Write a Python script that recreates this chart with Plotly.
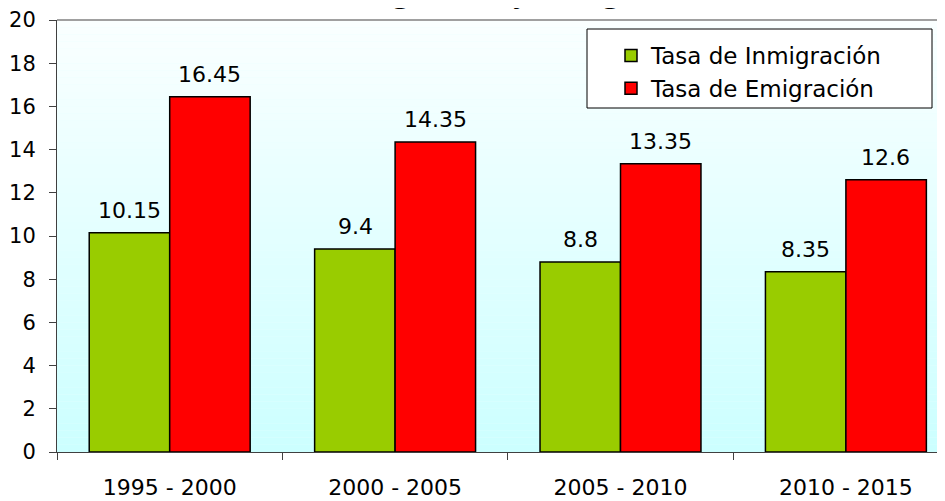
import plotly.graph_objects as go

categories = ["1995 - 2000", "2000 - 2005", "2005 - 2010", "2010 - 2015"]
inmigracion = [10.15, 9.4, 8.8, 8.35]
emigracion = [16.45, 14.35, 13.35, 12.6]
inm_labels = ["10.15", "9.4", "8.8", "8.35"]
emi_labels = ["16.45", "14.35", "13.35", "12.6"]
series_names = ["Tasa de Inmigración", "Tasa de Emigración"]
title_text = "Tasas de Inmigración y Emigración, 1995-2015"

FONT = "DejaVu Sans"
W, H = 945, 501
OFF = 8  # page offset of the figure (body margin)
ML, MR, MT, MB = 57 - OFF, 0, 20 - OFF, H - (452 - OFF)

fig = go.Figure()
fig.add_trace(go.Bar(x=categories, y=inmigracion, name=series_names[0],
                     marker=dict(color="#99CC00", line=dict(color="black", width=1.5))))
fig.add_trace(go.Bar(x=categories, y=emigracion, name=series_names[1],
                     marker=dict(color="#FF0000", line=dict(color="black", width=1.5))))

pw = W - ML - MR
ph = H - MT - MB
def px(x): return (x - 57) / pw
def py(y): return (452 - y) / ph

# gradient background bands
shapes = []
n = 60
top = (250, 255, 255)
bot = (204, 255, 255)
for i in range(n):
    t = i / (n - 1)
    c = tuple(round(top[k] + (bot[k] - top[k]) * t) for k in range(3))
    shapes.append(dict(type="rect", xref="paper", yref="paper",
                       x0=0, x1=1, y0=1 - (i + 1) / n, y1=1 - i / n,
                       fillcolor="rgb(%d,%d,%d)" % c, line=dict(width=0), layer="below"))
# top border
shapes.append(dict(type="line", xref="paper", yref="paper", x0=0, x1=1, y0=1, y1=1,
                   line=dict(color="#A0A0A0", width=2), layer="above"))
# legend box
shapes.append(dict(type="rect", xref="paper", yref="paper",
                   x0=px(587), x1=px(932), y0=py(108), y1=py(29),
                   fillcolor="white", line=dict(color="black", width=1), layer="above"))

annotations = []
for cat, v, lab in zip(categories, inmigracion, inm_labels):
    annotations.append(dict(x=cat, y=v, text=lab, showarrow=False, xshift=-40,
                            yanchor="bottom", yshift=8, font=dict(family=FONT, size=22, color="black")))
for cat, v, lab in zip(categories, emigracion, emi_labels):
    annotations.append(dict(x=cat, y=v, text=lab, showarrow=False, xshift=40,
                            yanchor="bottom", yshift=8, font=dict(family=FONT, size=22, color="black")))
annotations.append(dict(xref="paper", yref="paper", x=px(183), y=1, xanchor="left",
                        yanchor="bottom", yshift=9, showarrow=False, text="<b>" + title_text + "</b>",
                        font=dict(family="Liberation Serif", size=35, color="black")))

fig.update_layout(
    width=W, height=H,
    margin=dict(l=ML, r=MR, t=MT, b=MB, autoexpand=False),
    paper_bgcolor="white", plot_bgcolor="#E8FFFF",
    barmode="group", bargap=0.286, bargroupgap=0,
    showlegend=True,
    legend=dict(x=px(611), y=py(34), xanchor="left", yanchor="top",
                bgcolor="rgba(0,0,0,0)", borderwidth=0,
                font=dict(family=FONT, size=23, color="black"), tracegroupgap=0),
    shapes=shapes, annotations=annotations,
    xaxis=dict(range=[-0.5, -0.5 + pw / 225.4], showgrid=False, showline=True,
               linecolor="#404040", linewidth=1, ticks="outside", ticklen=7,
               tickcolor="#404040", tickson="boundaries", ticklabelstandoff=16,
               tickfont=dict(family=FONT, size=22, color="black")),
    yaxis=dict(range=[0, 20], dtick=2, showgrid=False, zeroline=False, showline=True,
               linecolor="#404040", linewidth=1, ticks="outside", ticklen=7,
               tickcolor="#404040", ticklabelstandoff=9,
               tickfont=dict(family=FONT, size=21, color="black")),
)

fig.write_html("out.html")
